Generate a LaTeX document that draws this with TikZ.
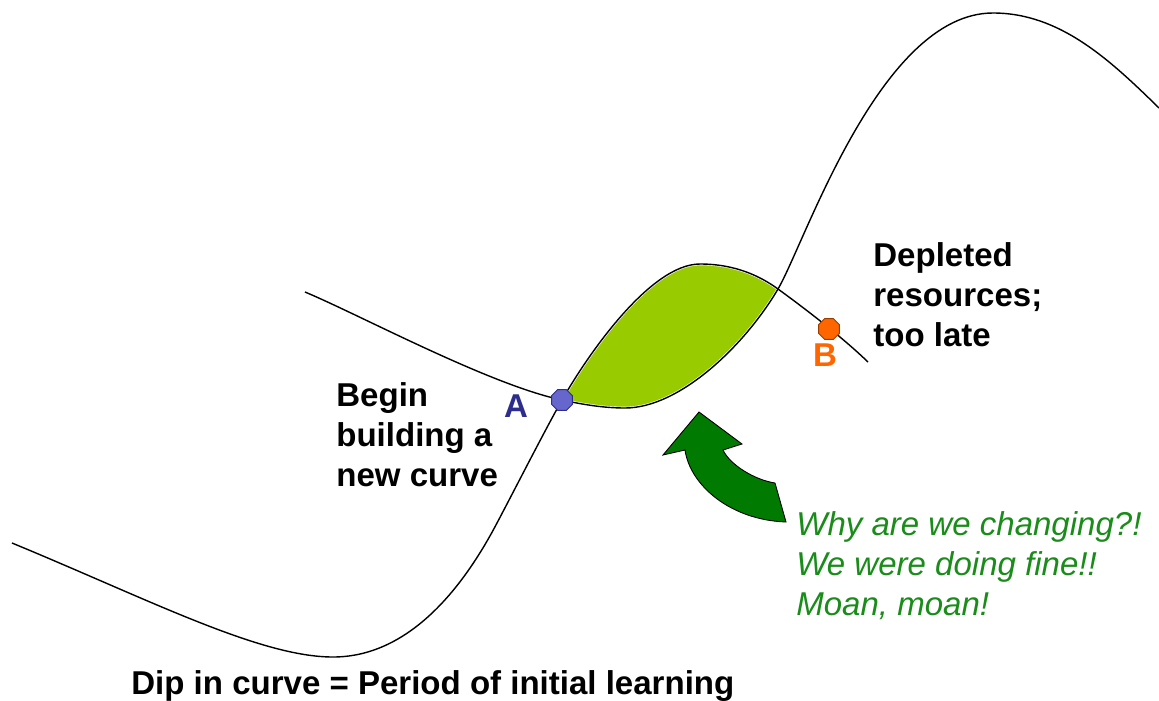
\documentclass[tikz,border=0pt]{standalone}
\usepackage{fontspec}
\setmainfont{Liberation Sans}
\usetikzlibrary{shapes.geometric}

\definecolor{leafgreen}{RGB}{153,204,0}
\definecolor{arrowgreen}{RGB}{0,122,0}
\definecolor{moangreen}{RGB}{25,140,25}
\definecolor{pointA}{RGB}{102,102,204}
\definecolor{labelA}{RGB}{45,45,140}
\definecolor{pointB}{RGB}{255,102,0}

\begin{document}
\begin{tikzpicture}[
  x=0.02cm, y=-0.02cm,
  curve/.style={line width=0.8pt, black},
  say/.style={font=\fontsize{18.8}{22.8}\selectfont\bfseries, align=left,
              anchor=north west, inner sep=0pt},
  moan/.style={say, font=\fontsize{18.8}{22.8}\selectfont\itshape, text=moangreen},
  dot/.style={regular polygon, regular polygon sides=8, minimum size=0.45cm,
              inner sep=0pt, line width=0.5pt},
]
\useasboundingbox (0,0) rectangle (1159,700);

% ---------------- points the two curves run through ----------------
\coordinate (s1)     at (12,543);
\coordinate (trough) at (333,657);
\coordinate (rise)   at (497,523);
\coordinate (A)      at (562,400);
\coordinate (peak1)  at (700,264);
\coordinate (X)      at (778,289);
\coordinate (e1)     at (868,362);
\coordinate (s2)     at (305,292);
\coordinate (low)    at (625,408);
\coordinate (peak2)  at (993,13);
\coordinate (e2)     at (1159,108);

% the leaf between them
\filldraw[fill=leafgreen, draw=white, line width=1.5pt]
  (A) .. controls (587,356) and (650,264) .. (peak1)
      .. controls (735,264) and (760,276) .. (X)
      .. controls (745,345) and (680,408) .. (low)
      .. controls (605,408) and (585,405) .. (A) -- cycle;

% ---------------- first curve ----------------
\draw[curve] (s1) .. controls (150,600) and (260,657) .. (trough)
  .. controls (400,657) and (455,603) .. (rise)
  .. controls (515,489) and (545,430) .. (A)
  .. controls (587,356) and (650,264) .. (peak1)
  .. controls (735,264) and (760,276) .. (X)
  .. controls (800,305) and (840,335) .. (e1);

% ---------------- second curve ----------------
\draw[curve] (s2) .. controls (360,315) and (490,385) .. (A)
  .. controls (585,405) and (605,408) .. (low)
  .. controls (680,408) and (745,345) .. (X)
  .. controls (805,243) and (880,13) .. (peak2)
  .. controls (1060,13) and (1110,60) .. (e2);

% the bent arrow
\draw[fill=arrowgreen, line width=0.5pt]
  (699,412) -- (742,444) -- (723,450)
  .. controls (730,465) and (755,480) .. (775,483) -- (786,522)
  .. controls (730,520) and (690,485) .. (685,450) -- (663,455) -- cycle;

% ---------------- points and labels ----------------
\node[dot, fill=pointA, draw=labelA] (dotA) at (A) {};
\node[dot, fill=pointB, draw=pointB!60!black] (dotB) at (829,329) {};
\node[say, anchor=center, text=labelA] (lblA) at (516,406) {A};
\node[say, anchor=center, text=pointB] (lblB) at (825,355) {B};

\node[say] (begin)    at (336,382) {Begin\\building a\\new curve};
\node[say] (depleted) at (873,242) {Depleted\\resources;\\too late};
\node[moan] (why)     at (796,511) {Why are we changing?!\\We were doing fine!!\\Moan, moan!};
\node[say, anchor=base west] (diptext) at (131,694) {Dip in curve = Period of initial learning};

\end{tikzpicture}
\end{document}
